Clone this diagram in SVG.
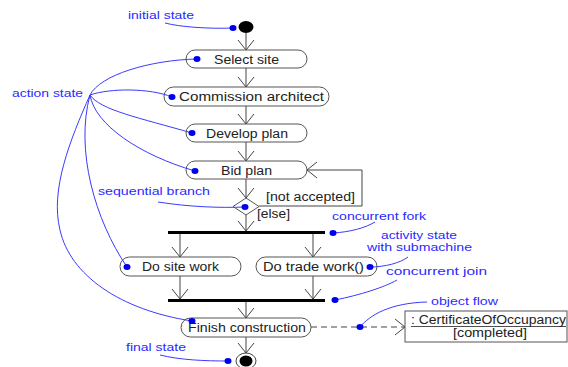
<svg xmlns="http://www.w3.org/2000/svg" width="568" height="367" viewBox="0 0 568 367">
  <style>
    .pill { fill: #fff; stroke: #555; stroke-width: 1; }
    .lbl { font-family: "Liberation Sans", Arial, sans-serif; font-size: 12.5px; fill: #222; }
    .note { font-family: "Liberation Sans", Arial, sans-serif; font-size: 11.5px; fill: #2a2aff; }
    .flow { fill: none; stroke: #444; stroke-width: 1; }
    .lead { fill: none; stroke: #3a3aff; stroke-width: 1; }
    .dot { fill: #0000ee; }
    .bar { fill: #000; }
  </style>
  <defs>
    <marker id="open" viewBox="-1 -9 12 18" refX="10" refY="0" markerWidth="12" markerHeight="18" markerUnits="userSpaceOnUse" orient="auto">
      <path d="M0,-8 L10,0 L0,8" fill="none" stroke="#444" stroke-width="1"/>
    </marker>
  </defs>
  <rect width="568" height="367" fill="#fff"/>

  <!-- control and object flows -->
  <g id="connectors">
    <line class="flow" x1="246" y1="33" x2="246" y2="50" marker-end="url(#open)"/>
    <line class="flow" x1="246" y1="68" x2="246" y2="87" marker-end="url(#open)"/>
    <line class="flow" x1="246" y1="106" x2="246" y2="124" marker-end="url(#open)"/>
    <line class="flow" x1="246" y1="142" x2="246" y2="161" marker-end="url(#open)"/>
    <line class="flow" x1="246" y1="179" x2="246" y2="198" marker-end="url(#open)"/>
    <polyline class="flow" points="259,206 362,206 362,170 307,170" marker-end="url(#open)"/>
    <line class="flow" x1="246" y1="215" x2="246" y2="231" marker-end="url(#open)"/>
    <line class="flow" x1="180" y1="234" x2="180" y2="257" marker-end="url(#open)"/>
    <line class="flow" x1="313" y1="234" x2="313" y2="257" marker-end="url(#open)"/>
    <line class="flow" x1="180" y1="276" x2="180" y2="299" marker-end="url(#open)"/>
    <line class="flow" x1="313" y1="276" x2="313" y2="299" marker-end="url(#open)"/>
    <line class="flow" x1="246" y1="302" x2="246" y2="318" marker-end="url(#open)"/>
    <line class="flow" x1="246" y1="337" x2="246" y2="353" marker-end="url(#open)"/>
    <line class="flow" x1="311" y1="327" x2="405" y2="327" stroke-dasharray="6,4" marker-end="url(#open)"/>
    <text class="lbl" x="266" y="201" textLength="89" lengthAdjust="spacingAndGlyphs">[not accepted]</text>
    <text class="lbl" x="257" y="218" textLength="33" lengthAdjust="spacingAndGlyphs">[else]</text>
  </g>

  <g id="initial">
    <ellipse cx="246" cy="27" rx="7.5" ry="6" fill="#000"/>
  </g>
  <g id="select-site">
    <rect class="pill" x="186" y="50" width="121" height="18" rx="9"/>
    <text class="lbl" x="214" y="63.5" textLength="65" lengthAdjust="spacingAndGlyphs">Select site</text>
  </g>
  <g id="commission-architect">
    <rect class="pill" x="164" y="87" width="165" height="19" rx="9.5"/>
    <text class="lbl" x="179" y="101" textLength="145" lengthAdjust="spacingAndGlyphs">Commission architect</text>
  </g>
  <g id="develop-plan">
    <rect class="pill" x="186" y="124" width="121" height="18" rx="9"/>
    <text class="lbl" x="206" y="137.5" textLength="82" lengthAdjust="spacingAndGlyphs">Develop plan</text>
  </g>
  <g id="bid-plan">
    <rect class="pill" x="186" y="161" width="121" height="18" rx="9"/>
    <text class="lbl" x="221" y="174.5" textLength="51" lengthAdjust="spacingAndGlyphs">Bid plan</text>
  </g>
  <g id="branch">
    <polygon points="246,198 259,206.5 246,215 233,206.5" fill="#fff" stroke="#555" stroke-width="1"/>
  </g>
  <g id="fork">
    <rect class="bar" x="168" y="231" width="157" height="3"/>
  </g>
  <g id="do-site-work">
    <rect class="pill" x="120" y="257" width="121" height="19" rx="9.5"/>
    <text class="lbl" x="142" y="270.5" textLength="77" lengthAdjust="spacingAndGlyphs">Do site work</text>
  </g>
  <g id="do-trade-work">
    <rect class="pill" x="256" y="257" width="121" height="19" rx="9.5"/>
    <text class="lbl" x="263" y="270.5" textLength="101" lengthAdjust="spacingAndGlyphs">Do trade work()</text>
  </g>
  <g id="join">
    <rect class="bar" x="168" y="299" width="157" height="3"/>
  </g>
  <g id="finish-construction">
    <rect class="pill" x="181" y="318" width="130" height="19" rx="9.5"/>
    <text class="lbl" x="188" y="331.5" textLength="118" lengthAdjust="spacingAndGlyphs">Finish construction</text>
  </g>
  <g id="final">
    <ellipse cx="246" cy="361" rx="10" ry="8" fill="#fff" stroke="#444" stroke-width="1"/>
    <ellipse cx="246" cy="361" rx="6.5" ry="5.5" fill="#000"/>
  </g>
  <g id="certificate">
    <rect x="405" y="311" width="162" height="31" fill="#fff" stroke="#555" stroke-width="1"/>
    <text class="lbl" x="411" y="324" textLength="155" lengthAdjust="spacingAndGlyphs">: CertificateOfOccupancy</text>
    <line x1="411" y1="326.5" x2="566" y2="326.5" stroke="#222" stroke-width="0.8"/>
    <text class="lbl" x="453" y="337" textLength="74" lengthAdjust="spacingAndGlyphs">[completed]</text>
  </g>

  <!-- explanatory notes with leader lines -->
  <g id="notes">
    <text class="note" x="128" y="19" textLength="66" lengthAdjust="spacingAndGlyphs">initial state</text>
    <path class="lead" d="M165,23 C180,27 210,29 233,28"/>
    <ellipse class="dot" cx="233" cy="28" rx="3.5" ry="3"/>

    <text class="note" x="12" y="97" textLength="71" lengthAdjust="spacingAndGlyphs">action state</text>
    <path class="lead" d="M90,95 C100,75 150,60 197,59"/>
    <path class="lead" d="M90,95 C110,88 150,88 172,97"/>
    <path class="lead" d="M90,95 C100,110 140,118 192,133"/>
    <path class="lead" d="M90,95 C95,125 140,155 195,171"/>
    <path class="lead" d="M90,95 C75,150 95,220 127,267"/>
    <path class="lead" d="M90,95 C70,140 50,190 60,230 C70,275 120,310 192,321"/>
    <ellipse class="dot" cx="197" cy="59" rx="3.5" ry="3"/>
    <ellipse class="dot" cx="172" cy="97" rx="3.5" ry="3"/>
    <ellipse class="dot" cx="192" cy="133" rx="3.5" ry="3"/>
    <ellipse class="dot" cx="195" cy="171" rx="3.5" ry="3"/>
    <ellipse class="dot" cx="127" cy="267" rx="3.5" ry="3"/>
    <ellipse class="dot" cx="192" cy="321" rx="3.5" ry="3"/>

    <text class="note" x="98" y="195" textLength="112" lengthAdjust="spacingAndGlyphs">sequential branch</text>
    <path class="lead" d="M158,202 C190,207 220,208 245,207"/>
    <ellipse class="dot" cx="245" cy="207" rx="3.5" ry="3"/>

    <text class="note" x="332" y="220" textLength="94" lengthAdjust="spacingAndGlyphs">concurrent fork</text>
    <path class="lead" d="M333,233 C350,232 365,228 375,222"/>
    <ellipse class="dot" cx="333" cy="233" rx="3.5" ry="3"/>

    <text class="note" x="381" y="239" textLength="76" lengthAdjust="spacingAndGlyphs">activity state</text>
    <text class="note" x="367" y="251" textLength="105" lengthAdjust="spacingAndGlyphs">with submachine</text>
    <path class="lead" d="M370,267 C385,267 400,263 408,257"/>
    <ellipse class="dot" cx="370" cy="267" rx="3.5" ry="3"/>

    <text class="note" x="386" y="275" textLength="101" lengthAdjust="spacingAndGlyphs">concurrent join</text>
    <path class="lead" d="M335,300 C360,295 385,287 397,280"/>
    <ellipse class="dot" cx="335" cy="300" rx="3.5" ry="3"/>

    <text class="note" x="431" y="305" textLength="67" lengthAdjust="spacingAndGlyphs">object flow</text>
    <path class="lead" d="M360,327 C370,315 390,303 427,302"/>
    <ellipse class="dot" cx="360" cy="327" rx="3.5" ry="3"/>

    <text class="note" x="126" y="351" textLength="60" lengthAdjust="spacingAndGlyphs">final state</text>
    <path class="lead" d="M160,355 C180,360 205,361 228,361"/>
    <ellipse class="dot" cx="228" cy="361" rx="3.5" ry="3"/>
  </g>
</svg>
